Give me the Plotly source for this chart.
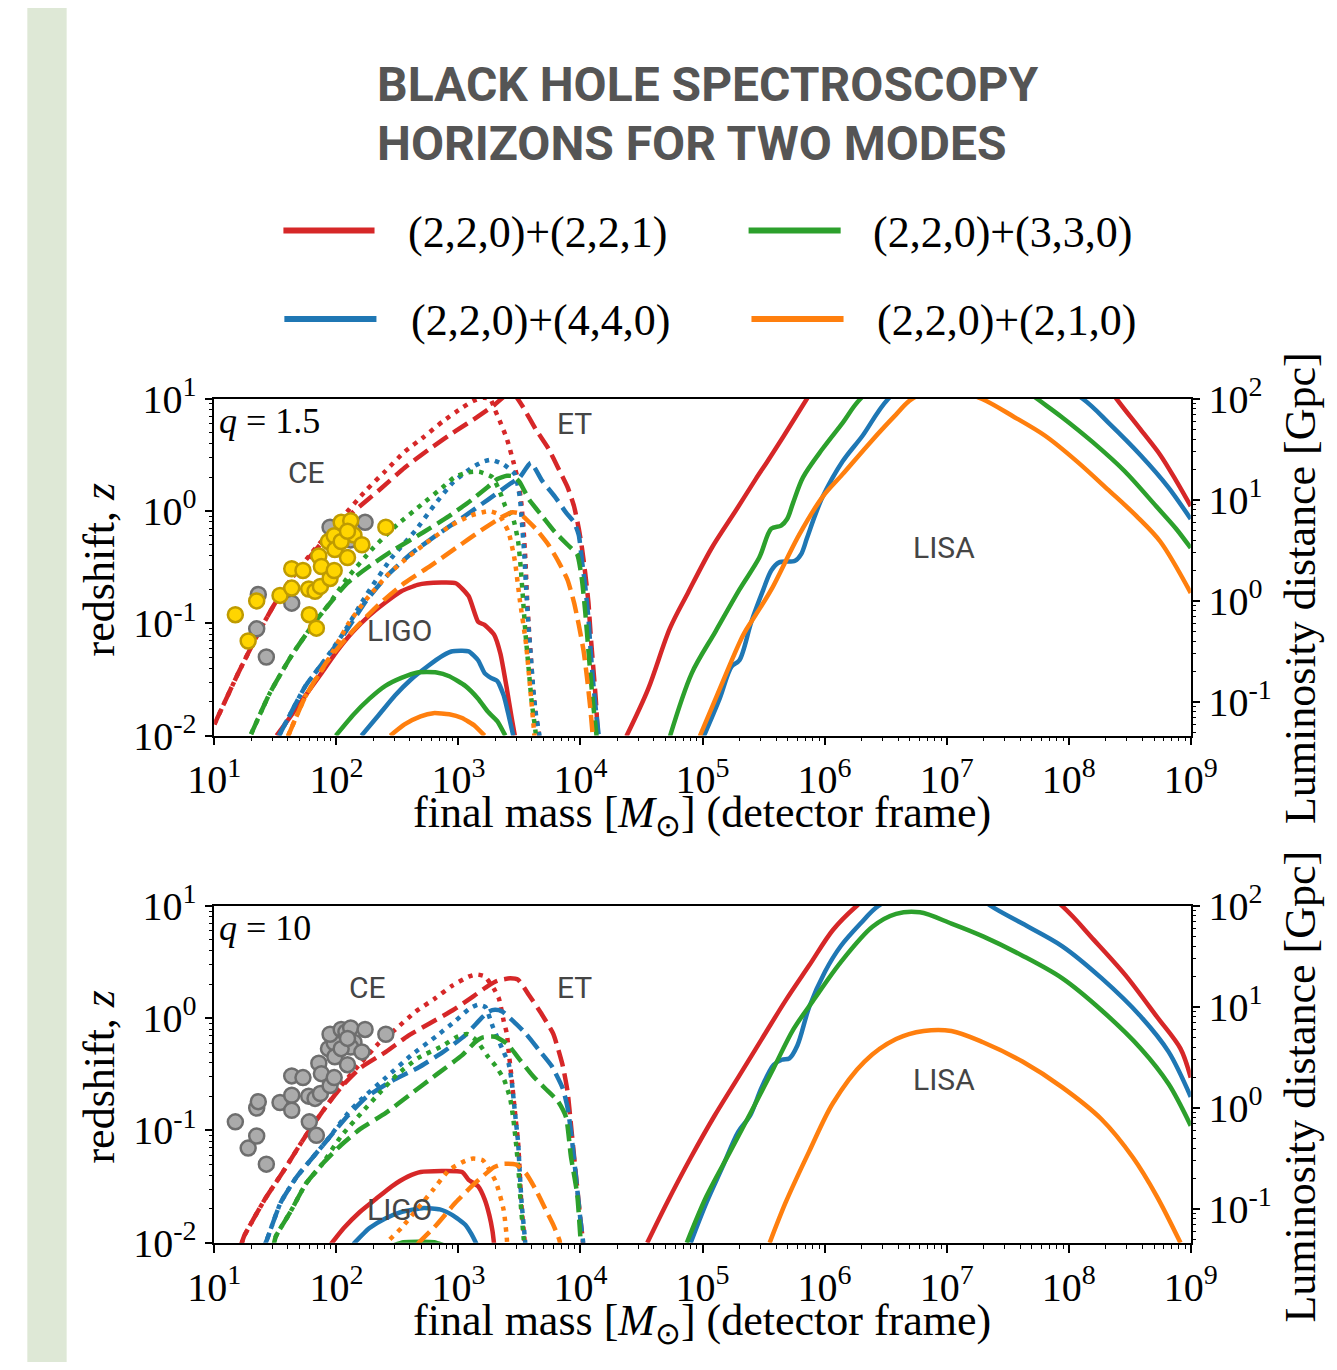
import numpy as np
import plotly.graph_objects as go

W, H = 1337, 1370          # target picture size
OX, OY = 8, 8              # page body margin
FW, FH = W - 2 * OX, H - 2 * OY
RED, BLUE, GREEN, ORANGE = "#d62728", "#1f77b4", "#2ca02c", "#ff7f0e"

# ---------------- data (log10 final mass, log10 redshift) ----------------
# q = 1.5  -- LIGO (solid)
T_LIGO_221_M = [1.51, 1.615, 1.747, 1.878, 2.008, 2.139, 2.271, 2.401, 2.532, 2.664, 2.742, 2.978, 3.083, 3.161, 3.214, 3.292, 3.344, 3.397, 3.436, 3.462]
T_LIGO_221_Z = [-2.0, -1.843, -1.643, -1.443, -1.243, -1.071, -0.929, -0.814, -0.714, -0.657, -0.643, -0.643, -0.757, -0.986, -1.014, -1.1, -1.271, -1.586, -1.843, -2.0]
T_LIGO_440_M = [2.205, 2.349, 2.48, 2.611, 2.742, 2.873, 2.951, 3.083, 3.161, 3.214, 3.266, 3.318, 3.371, 3.41, 3.449]
T_LIGO_440_Z = [-2.0, -1.814, -1.643, -1.5, -1.386, -1.286, -1.249, -1.249, -1.329, -1.443, -1.486, -1.514, -1.643, -1.814, -2.0]
T_LIGO_330_M = [1.995, 2.139, 2.271, 2.401, 2.532, 2.664, 2.821, 2.925, 3.056, 3.161, 3.24, 3.318, 3.384]
T_LIGO_330_Z = [-2.0, -1.814, -1.671, -1.557, -1.486, -1.437, -1.437, -1.471, -1.557, -1.671, -1.786, -1.871, -2.0]
T_LIGO_210_M = [2.441, 2.558, 2.69, 2.794, 2.925, 3.03, 3.135, 3.214]
T_LIGO_210_Z = [-2.0, -1.9, -1.829, -1.8, -1.809, -1.843, -1.914, -2.0]

# q = 1.5  -- ET (dashed)
T_ET_221_M = [1.0, 1.196, 1.354, 1.485, 1.642, 1.799, 1.982, 2.192, 2.349, 2.559, 2.768, 2.978, 3.161, 3.292, 3.40, 3.462, 3.528, 3.633, 3.737, 3.816, 3.894, 3.947, 3.986, 4.012, 4.039, 4.065, 4.083, 4.104, 4.125, 4.143, 4.15]
T_ET_221_Z = [-1.9, -1.443, -1.1, -0.843, -0.586, -0.386, -0.157, 0.043, 0.186, 0.386, 0.557, 0.714, 0.843, 0.943, 1.04, 1.03, 0.929, 0.729, 0.557, 0.386, 0.214, 0.043, -0.157, -0.329, -0.557, -0.814, -1.1, -1.386, -1.671, -1.986, -2.05]
T_ET_440_M = [1.53, 1.65, 1.747, 1.904, 2.061, 2.244, 2.42, 2.611, 2.821, 3.03, 3.24, 3.423, 3.502, 3.593, 3.685, 3.79, 3.882, 3.947, 3.986, 4.012, 4.039, 4.065, 4.083, 4.104, 4.13, 4.148, 4.155]
T_ET_440_Z = [-2.0, -1.75, -1.557, -1.329, -1.1, -0.8, -0.57, -0.38, -0.214, -0.06, 0.1, 0.243, 0.3, 0.43, 0.271, 0.129, -0.014, -0.1, -0.214, -0.443, -0.671, -0.957, -1.243, -1.529, -1.814, -1.986, -2.05]
T_ET_330_M = [1.301, 1.458, 1.642, 1.825, 1.93, 2.087, 2.297, 2.454, 2.716, 2.926, 3.109, 3.24, 3.319, 3.397, 3.45, 3.50, 3.58, 3.685, 3.79, 3.894, 3.973, 4.012, 4.039, 4.065, 4.099, 4.13, 4.135]
T_ET_330_Z = [-1.986, -1.614, -1.271, -0.986, -0.843, -0.643, -0.471, -0.357, -0.186, -0.043, 0.1, 0.214, 0.286, 0.314, 0.31, 0.26, 0.1, -0.043, -0.186, -0.3, -0.386, -0.614, -0.9, -1.243, -1.671, -1.986, -2.05]
T_ET_210_M = [1.603, 1.747, 1.93, 2.14, 2.349, 2.559, 2.768, 2.978, 3.188, 3.345, 3.44, 3.5, 3.554, 3.633, 3.737, 3.816, 3.894, 3.947, 3.986, 4.025, 4.052, 4.078, 4.099, 4.103]
T_ET_210_Z = [-2.006, -1.65, -1.33, -1.06, -0.83, -0.64, -0.49, -0.33, -0.17, -0.06, -0.01, -0.02, -0.071, -0.157, -0.3, -0.443, -0.614, -0.814, -1.014, -1.243, -1.471, -1.729, -1.986, -2.05]

# q = 1.5  -- CE (dotted)
T_CE_221_M = [1.0, 1.196, 1.354, 1.485, 1.642, 1.799, 2.035, 2.244, 2.402, 2.559, 2.716, 2.873, 3.03, 3.12, 3.2, 3.26, 3.30, 3.345, 3.397, 3.449, 3.489, 3.515, 3.533, 3.549, 3.56, 3.575, 3.593, 3.611, 3.633, 3.659, 3.665]
T_CE_221_Z = [-1.9, -1.443, -1.1, -0.843, -0.586, -0.37, -0.071, 0.186, 0.357, 0.529, 0.66, 0.8, 0.92, 0.98, 1.01, 1.0, 0.9, 0.786, 0.643, 0.443, 0.271, 0.071, -0.157, -0.443, -0.729, -1.014, -1.3, -1.586, -1.814, -1.986, -2.05]
T_CE_440_M = [1.53, 1.65, 1.747, 1.904, 2.061, 2.244, 2.45, 2.65, 2.8, 2.951, 3.108, 3.2, 3.266, 3.371, 3.462, 3.502, 3.52, 3.54, 3.555, 3.572, 3.593, 3.613, 3.635, 3.662, 3.668]
T_CE_440_Z = [-2.0, -1.75, -1.557, -1.329, -1.08, -0.75, -0.42, -0.17, 0.05, 0.25, 0.386, 0.44, 0.457, 0.414, 0.329, 0.129, -0.1, -0.4, -0.7, -1.0, -1.3, -1.586, -1.814, -1.986, -2.05]
T_CE_330_M = [1.301, 1.458, 1.642, 1.825, 1.93, 2.087, 2.3, 2.5, 2.7, 2.873, 2.965, 3.069, 3.17, 3.28, 3.34, 3.384, 3.449, 3.489, 3.51, 3.53, 3.55, 3.575, 3.6, 3.63, 3.64]
T_CE_330_Z = [-1.986, -1.614, -1.271, -0.986, -0.843, -0.6, -0.33, -0.12, 0.06, 0.214, 0.3, 0.343, 0.35, 0.3, 0.17, 0.043, -0.071, -0.271, -0.5, -0.8, -1.1, -1.4, -1.7, -1.95, -2.05]
T_CE_210_M = [1.603, 1.747, 1.93, 2.1, 2.25, 2.428, 2.6, 2.716, 2.938, 3.1, 3.252, 3.33, 3.41, 3.462, 3.502, 3.554, 3.593, 3.619, 3.625]
T_CE_210_Z = [-2.006, -1.65, -1.33, -1.0, -0.78, -0.56, -0.4, -0.3, -0.129, -0.04, 0.0, -0.03, -0.186, -0.443, -0.786, -1.186, -1.643, -1.957, -2.05]

# q = 1.5  -- LISA (solid)
T_LISA_221_M = [4.376, 4.554, 4.733, 4.88, 5.075, 5.27, 5.433, 5.53, 5.66, 5.855, 6.0, 7.0, 8.2, 8.392, 8.587, 8.75, 8.88, 9.0]
T_LISA_221_Z = [-2.006, -1.586, -1.043, -0.729, -0.329, 0.0, 0.28, 0.44, 0.66, 1.0, 1.25, 2.0, 1.3, 1.0, 0.729, 0.5, 0.271, 0.043]
T_LISA_440_M = [5.01, 5.14, 5.237, 5.302, 5.4, 5.498, 5.563, 5.628, 5.758, 5.807, 5.855, 5.92, 5.985, 6.148, 6.311, 6.522, 7.2, 8.115, 8.327, 8.587, 8.815, 9.0]
T_LISA_440_Z = [-2.006, -1.671, -1.386, -1.329, -0.986, -0.7, -0.529, -0.457, -0.443, -0.386, -0.243, -0.043, 0.129, 0.443, 0.671, 1.0, 1.6, 1.0, 0.786, 0.5, 0.214, -0.071]
T_LISA_330_M = [4.733, 4.912, 5.107, 5.302, 5.465, 5.563, 5.644, 5.693, 5.741, 5.823, 5.985, 6.148, 6.294, 7.0, 7.741, 7.937, 8.197, 8.457, 8.717, 8.88, 9.0]
T_LISA_330_Z = [-2.006, -1.443, -1.071, -0.7, -0.414, -0.157, -0.129, -0.071, 0.071, 0.3, 0.557, 0.786, 1.0, 1.6, 1.0, 0.843, 0.614, 0.357, 0.043, -0.157, -0.329]
T_LISA_210_M = [4.977, 5.14, 5.335, 5.433, 5.563, 5.79, 5.985, 6.148, 6.376, 6.571, 6.717, 7.0, 7.286, 7.546, 7.807, 8.067, 8.327, 8.554, 8.75, 9.0]
T_LISA_210_Z = [-2.006, -1.586, -1.1, -0.929, -0.7, -0.214, 0.129, 0.329, 0.614, 0.843, 1.0, 1.1, 1.0, 0.843, 0.671, 0.443, 0.186, -0.043, -0.271, -0.729]

# q = 10  -- LIGO (solid)
B_LIGO_221_M = [1.956, 2.061, 2.192, 2.323, 2.454, 2.585, 2.69, 3.03, 3.083, 3.161, 3.214, 3.253, 3.279, 3.292]
B_LIGO_221_Z = [-2.011, -1.869, -1.726, -1.611, -1.497, -1.411, -1.369, -1.369, -1.44, -1.497, -1.611, -1.754, -1.897, -2.011]
B_LIGO_440_M = [2.139, 2.271, 2.401, 2.532, 2.716, 2.847, 2.951, 3.056, 3.108, 3.148]
B_LIGO_440_Z = [-2.011, -1.869, -1.783, -1.726, -1.691, -1.703, -1.754, -1.84, -1.926, -2.011]
B_LIGO_330_M = [2.45, 2.55, 2.7, 2.8, 2.9]
B_LIGO_330_Z = [-2.03, -1.995, -1.99, -1.995, -2.03]

# q = 10  -- ET (dashed)
B_ET_221_M = [1.22, 1.243, 1.413, 1.569, 1.7, 1.804, 1.935, 2.039, 2.196, 2.405, 2.587, 2.77, 2.953, 3.11, 3.24, 3.319, 3.423, 3.488, 3.58, 3.685, 3.777, 3.855, 3.894, 3.921, 3.947, 3.973, 4.0, 4.018, 4.022]
B_ET_221_Z = [-2.02, -1.943, -1.614, -1.357, -1.129, -0.957, -0.757, -0.614, -0.443, -0.3, -0.157, -0.043, 0.071, 0.186, 0.286, 0.334, 0.355, 0.343, 0.203, 0.031, -0.14, -0.426, -0.654, -0.94, -1.226, -1.511, -1.797, -1.969, -2.05]
B_ET_440_M = [1.40, 1.426, 1.543, 1.674, 1.804, 1.935, 2.091, 2.248, 2.457, 2.666, 2.875, 3.057, 3.188, 3.25, 3.3, 3.358, 3.449, 3.554, 3.659, 3.764, 3.855, 3.894, 3.921, 3.947, 3.973, 4.0, 4.02, 4.025]
B_ET_440_Z = [-2.05, -1.986, -1.643, -1.414, -1.243, -1.071, -0.871, -0.7, -0.557, -0.443, -0.3, -0.15, 0.0, 0.06, 0.075, 0.06, -0.026, -0.14, -0.283, -0.426, -0.626, -0.797, -1.0, -1.25, -1.52, -1.8, -1.98, -2.05]
B_ET_330_M = [1.48, 1.504, 1.621, 1.752, 1.883, 2.039, 2.196, 2.405, 2.614, 2.822, 3.031, 3.136, 3.2, 3.3, 3.397, 3.502, 3.607, 3.711, 3.816, 3.882, 3.921, 3.973, 4.0, 4.005]
B_ET_330_Z = [-2.05, -1.943, -1.729, -1.471, -1.3, -1.129, -0.986, -0.843, -0.671, -0.5, -0.329, -0.214, -0.17, -0.165, -0.226, -0.369, -0.511, -0.626, -0.74, -0.883, -1.226, -1.569, -1.969, -2.05]
B_ET_210_M = [2.664, 2.821, 2.978, 3.135, 3.292, 3.371, 3.475, 3.554, 3.633, 3.711, 3.777, 3.829, 3.835]
B_ET_210_Z = [-2.011, -1.84, -1.64, -1.469, -1.326, -1.297, -1.305, -1.383, -1.526, -1.697, -1.84, -1.983, -2.05]

# q = 10  -- CE (dotted)
B_CE_221_M = [1.22, 1.243, 1.413, 1.569, 1.7, 1.804, 1.935, 2.039, 2.2, 2.35, 2.483, 2.65, 2.8, 2.95, 3.083, 3.15, 3.214, 3.292, 3.332, 3.371, 3.397, 3.41, 3.436, 3.462, 3.489, 3.502, 3.515, 3.541, 3.545]
B_CE_221_Z = [-2.02, -1.943, -1.614, -1.357, -1.129, -0.957, -0.757, -0.6, -0.4, -0.22, -0.1, 0.06, 0.17, 0.29, 0.37, 0.39, 0.374, 0.26, 0.174, -0.026, -0.14, -0.283, -0.54, -0.826, -1.111, -1.369, -1.654, -1.969, -2.05]
B_CE_440_M = [1.40, 1.426, 1.543, 1.674, 1.804, 1.935, 2.091, 2.196, 2.405, 2.614, 2.822, 2.979, 3.084, 3.16, 3.22, 3.279, 3.33, 3.37, 3.41, 3.436, 3.462, 3.489, 3.502, 3.518, 3.545, 3.55]
B_CE_440_Z = [-2.05, -1.986, -1.643, -1.414, -1.243, -1.071, -0.85, -0.729, -0.529, -0.329, -0.157, -0.02, 0.08, 0.12, 0.1, -0.069, -0.2, -0.3, -0.4, -0.56, -0.83, -1.11, -1.37, -1.65, -1.97, -2.05]
B_CE_330_M = [1.48, 1.504, 1.621, 1.752, 1.883, 2.039, 2.2, 2.35, 2.5, 2.666, 2.875, 2.979, 3.069, 3.15, 3.24, 3.305, 3.371, 3.423, 3.45, 3.475, 3.495, 3.51, 3.535, 3.54]
B_CE_330_Z = [-2.05, -1.943, -1.729, -1.471, -1.3, -1.05, -0.85, -0.67, -0.5, -0.357, -0.243, -0.171, -0.14, -0.2, -0.34, -0.426, -0.54, -0.711, -0.9, -1.15, -1.4, -1.65, -1.97, -2.05]
B_CE_210_M = [2.40, 2.428, 2.532, 2.664, 2.794, 2.925, 3.056, 3.12, 3.2, 3.305, 3.371, 3.397, 3.4]
B_CE_210_Z = [-2.05, -1.983, -1.869, -1.697, -1.526, -1.35, -1.27, -1.25, -1.265, -1.454, -1.711, -1.969, -2.05]

# q = 10  -- LISA (solid)
B_LISA_221_M = [4.547, 4.709, 4.903, 5.097, 5.291, 5.485, 5.68, 5.874, 6.068, 6.262, 7.1, 7.945, 8.204, 8.463, 8.722, 8.916, 9.0]
B_LISA_221_Z = [-2.0, -1.643, -1.243, -0.871, -0.529, -0.186, 0.157, 0.471, 0.786, 1.0, 1.7, 1.0, 0.7, 0.386, 0.014, -0.271, -0.529]
B_LISA_440_M = [4.903, 5.032, 5.162, 5.291, 5.388, 5.485, 5.583, 5.65, 5.712, 5.777, 5.874, 6.003, 6.133, 6.294, 6.44, 7.0, 7.362, 7.621, 7.945, 8.269, 8.592, 8.819, 9.0]
B_LISA_440_Z = [-2.0, -1.643, -1.329, -1.014, -0.871, -0.614, -0.414, -0.37, -0.357, -0.243, 0.1, 0.414, 0.643, 0.843, 1.0, 1.3, 1.0, 0.843, 0.643, 0.357, 0.014, -0.3, -0.7]
B_LISA_330_M = [4.871, 5.032, 5.227, 5.421, 5.583, 5.744, 5.906, 6.133, 6.392, 6.586, 6.78, 7.039, 7.298, 7.621, 7.945, 8.269, 8.592, 8.819, 9.0]
B_LISA_330_Z = [-2.0, -1.586, -1.186, -0.786, -0.443, -0.1, 0.157, 0.5, 0.814, 0.929, 0.943, 0.843, 0.729, 0.557, 0.357, 0.071, -0.271, -0.586, -0.957]
B_LISA_210_M = [5.55, 5.68, 5.874, 6.068, 6.327, 6.586, 6.812, 7.039, 7.298, 7.621, 7.945, 8.269, 8.528, 8.722, 8.916]
B_LISA_210_Z = [-2.0, -1.643, -1.186, -0.757, -0.386, -0.186, -0.114, -0.114, -0.214, -0.386, -0.614, -0.9, -1.243, -1.586, -2.0]

# observed events (log10 final mass, log10 z); gold in the q=1.5 panel where flagged
EV_M = [1.172, 1.277, 1.347, 1.426, 1.347, 1.360, 1.538, 1.634, 1.634, 1.634, 1.726, 1.773, 1.778, 1.825, 1.836, 1.856, 1.869, 1.877, 1.935, 1.948, 1.982, 1.982, 1.948, 1.987, 2.039, 2.078, 2.091, 2.117, 2.144, 2.117, 2.209, 2.235, 2.405, 2.039, 2.091]
EV_Z = [-0.923, -1.157, -1.049, -1.3, -0.8, -0.743, -0.751, -0.686, -0.82, -0.514, -0.529, -0.694, -0.923, -0.714, -1.043, -0.4, -0.671, -0.494, -0.271, -0.6, -0.529, -0.22, -0.143, -0.343, -0.1, -0.123, -0.414, -0.086, -0.214, -0.257, -0.3, -0.1, -0.143, -0.271, -0.18]
EV_GOLD = [1, 1, 0, 0, 1, 0, 1, 1, 0, 1, 1, 1, 1, 1, 1, 1, 1, 1, 1, 1, 1, 1, 0, 1, 1, 0, 1, 1, 1, 0, 1, 0, 1, 1, 1]

LEGEND_LABELS = ["(2,2,0)+(2,2,1)", "(2,2,0)+(3,3,0)", "(2,2,0)+(4,4,0)", "(2,2,0)+(2,1,0)"]

# ---------------- figure ----------------
fig = go.Figure()
DASH = "17px,7px"
DOT = "4.5px,6px"
LW = 4.5


def curve(m, z, color, dash, xa, ya, smooth):
    fig.add_trace(go.Scatter(x=10 ** np.array(m), y=10 ** np.array(z), mode="lines",
                             line=dict(color=color, width=LW, dash=dash, shape="spline", smoothing=smooth),
                             xaxis=xa, yaxis=ya, showlegend=False, hoverinfo="skip"))


top = [
    (RED, T_LIGO_221_M, T_LIGO_221_Z, T_LISA_221_M, T_LISA_221_Z, T_CE_221_M, T_CE_221_Z, T_ET_221_M, T_ET_221_Z),
    (BLUE, T_LIGO_440_M, T_LIGO_440_Z, T_LISA_440_M, T_LISA_440_Z, T_CE_440_M, T_CE_440_Z, T_ET_440_M, T_ET_440_Z),
    (GREEN, T_LIGO_330_M, T_LIGO_330_Z, T_LISA_330_M, T_LISA_330_Z, T_CE_330_M, T_CE_330_Z, T_ET_330_M, T_ET_330_Z),
    (ORANGE, T_LIGO_210_M, T_LIGO_210_Z, T_LISA_210_M, T_LISA_210_Z, T_CE_210_M, T_CE_210_Z, T_ET_210_M, T_ET_210_Z),
]
bot = [
    (RED, B_LIGO_221_M, B_LIGO_221_Z, B_LISA_221_M, B_LISA_221_Z, B_CE_221_M, B_CE_221_Z, B_ET_221_M, B_ET_221_Z),
    (BLUE, B_LIGO_440_M, B_LIGO_440_Z, B_LISA_440_M, B_LISA_440_Z, B_CE_440_M, B_CE_440_Z, B_ET_440_M, B_ET_440_Z),
    (GREEN, B_LIGO_330_M, B_LIGO_330_Z, B_LISA_330_M, B_LISA_330_Z, B_CE_330_M, B_CE_330_Z, B_ET_330_M, B_ET_330_Z),
    (ORANGE, None, None, B_LISA_210_M, B_LISA_210_Z, B_CE_210_M, B_CE_210_Z, B_ET_210_M, B_ET_210_Z),
]
for rows, xa, ya in [(top, "x", "y"), (bot, "x2", "y2")]:
    for c, lm, lz, sm, sz, cm, cz, em, ez in rows:
        if lm is not None:
            curve(lm, lz, c, "solid", xa, ya, 0.5)
        curve(sm, sz, c, "solid", xa, ya, 0.9)
        curve(cm, cz, c, DOT, xa, ya, 0.5)
        curve(em, ez, c, DASH, xa, ya, 0.5)

ev_m = 10 ** np.array(EV_M)
ev_z = 10 ** np.array(EV_Z)
gold = np.array(EV_GOLD) == 1
GREY_MK = dict(size=15, color="#ababab", line=dict(color="#6e6e6e", width=2.5))
GOLD_MK = dict(size=15, color="#ffd500", line=dict(color="#bf9b00", width=2.5))
fig.add_trace(go.Scatter(x=ev_m[~gold], y=ev_z[~gold], mode="markers", marker=GREY_MK,
                         xaxis="x", yaxis="y", showlegend=False, hoverinfo="skip"))
fig.add_trace(go.Scatter(x=ev_m[gold], y=ev_z[gold], mode="markers", marker=GOLD_MK,
                         xaxis="x", yaxis="y", showlegend=False, hoverinfo="skip"))
fig.add_trace(go.Scatter(x=ev_m, y=ev_z, mode="markers", marker=GREY_MK,
                         xaxis="x2", yaxis="y2", showlegend=False, hoverinfo="skip"))
# anchors for the luminosity-distance axes
fig.add_trace(go.Scatter(x=[], y=[], xaxis="x", yaxis="y3", showlegend=False))
fig.add_trace(go.Scatter(x=[], y=[], xaxis="x2", yaxis="y4", showlegend=False))


def px(x):
    return (x - OX) / FW


def py(y):
    return 1 - (y - OY) / FH


# ---------------- axes ----------------
SERIF = "Liberation Serif"
tick_font = dict(family=SERIF, size=40, color="black")


def p10(e):
    return f"10<sup>{e}</sup>"


def minors(lo, hi):
    return [k * 10.0 ** d for d in range(lo, hi) for k in range(2, 10)]


def xaxis(anchor):
    return dict(type="log", range=[1, 9], domain=[px(195), px(1213)], anchor=anchor,
                tickvals=[10.0 ** e for e in range(1, 10)], ticktext=[p10(e) for e in range(1, 10)],
                ticks="outside", ticklen=8, tickwidth=1.5, tickcolor="black",
                showline=True, linecolor="black", linewidth=1.5, mirror=True,
                showgrid=False, zeroline=False, tickfont=tick_font,
                minor=dict(tickvals=minors(1, 9), ticks="outside", ticklen=4, tickwidth=1,
                           tickcolor="black", showgrid=False))


def yaxis(anchor, dom):
    return dict(type="log", range=[-2, 1], domain=dom, anchor=anchor,
                tickvals=[10.0 ** e for e in range(-2, 2)], ticktext=[p10(e) for e in range(-2, 2)],
                ticks="outside", ticklen=8, tickwidth=1.5, tickcolor="black",
                showline=True, linecolor="black", linewidth=1.5,
                showgrid=False, zeroline=False, tickfont=tick_font,
                minor=dict(tickvals=minors(-2, 1), ticks="outside", ticklen=4, tickwidth=1,
                           tickcolor="black", showgrid=False))


def raxis(anchor, over):
    mv = [v for v in minors(-2, 2) if 10 ** -1.333 <= v <= 100]
    return dict(type="log", range=[-1.333, 2], overlaying=over, side="right", anchor=anchor,
                tickvals=[10.0 ** e for e in range(-1, 3)], ticktext=[p10(e) for e in range(-1, 3)],
                ticks="outside", ticklen=8, tickwidth=1.5, tickcolor="black",
                showline=True, linecolor="black", linewidth=1.5,
                showgrid=False, zeroline=False, tickfont=tick_font,
                minor=dict(tickvals=mv, ticks="outside", ticklen=4, tickwidth=1,
                           tickcolor="black", showgrid=False))


top_dom = [py(735), py(385)]
bot_dom = [py(1262), py(912)]

fig.update_layout(
    width=FW, height=FH, autosize=False,
    margin=dict(l=0, r=0, t=0, b=0),
    paper_bgcolor="white", plot_bgcolor="white",
    xaxis=xaxis("y"), yaxis=yaxis("x", top_dom),
    xaxis2=xaxis("y2"), yaxis2=yaxis("x2", bot_dom),
    yaxis3=raxis("x", "y"), yaxis4=raxis("x2", "y2"),
    showlegend=False,
)

shapes = [dict(type="rect", xref="paper", yref="paper", x0=px(0), x1=px(41), y0=-0.05, y1=1.05,
               fillcolor="#dee8d6", line=dict(width=0), layer="below")]
annots = []

# title
TITLE_FONT = dict(family="Roboto", size=48, color="#555555", weight=700)
annots.append(dict(text="BLACK HOLE SPECTROSCOPY", x=px(363), y=py(58), xanchor="left", yanchor="middle",
                   showarrow=False, xref="paper", yref="paper", font=TITLE_FONT))
annots.append(dict(text="HORIZONS FOR TWO MODES", x=px(363), y=py(120), xanchor="left", yanchor="middle",
                   showarrow=False, xref="paper", yref="paper", font=TITLE_FONT))

# legend (2 x 2, column-major)
leg_pos = [(267, 362, 210, 395, RED), (752, 848, 210, 880, GREEN),
           (268, 364, 302, 398, BLUE), (755, 851, 302, 884, ORANGE)]
for (x0, x1, yy, tx, col), lab in zip(leg_pos, LEGEND_LABELS):
    shapes.append(dict(type="line", xref="paper", yref="paper", x0=px(x0), x1=px(x1), y0=py(yy), y1=py(yy),
                       line=dict(color=col, width=6)))
    annots.append(dict(text=lab, x=px(tx), y=py(yy + 2), xanchor="left", yanchor="middle", showarrow=False,
                       xref="paper", yref="paper", font=dict(family=SERIF, size=44, color="black")))

LBL_FONT = dict(family="Roboto", size=30, color="#454545")
for t, x, y in [("CE", 291, 462), ("ET", 570, 411), ("LIGO", 388, 626), ("LISA", 956, 540),
                ("CE", 355, 997), ("ET", 570, 997), ("LIGO", 388, 1227), ("LISA", 956, 1092)]:
    annots.append(dict(text=t, x=px(x), y=py(y), xanchor="center", yanchor="middle", showarrow=False,
                       xref="paper", yref="paper", font=LBL_FONT))

for t, y in [("<i>q</i> = 1.5", 408), ("<i>q</i> = 10", 935)]:
    annots.append(dict(text=t, x=px(198), y=py(y), xanchor="left", yanchor="middle", showarrow=False,
                       xref="paper", yref="paper", font=dict(family=SERIF, size=36, color="black")))

AX_FONT = dict(family=SERIF, size=44, color="black")
for yc in (562, 1089):
    annots.append(dict(text="redshift, <i>z</i>", x=px(75), y=py(yc), xanchor="center", yanchor="middle",
                       textangle=-90, showarrow=False, xref="paper", yref="paper", font=AX_FONT))
for yc in (818, 1346):
    annots.append(dict(text="final mass [<i>M</i><sub>⊙</sub>] (detector frame)", x=px(703), y=py(yc),
                       xanchor="center", yanchor="middle", showarrow=False, xref="paper", yref="paper",
                       font=AX_FONT))
for yc in (582, 1100):
    annots.append(dict(text="Luminosity distance [Gpc]", x=px(1300), y=py(yc), xanchor="left", yanchor="middle",
                       textangle=-90, showarrow=False, xref="paper", yref="paper", font=AX_FONT))

fig.update_layout(shapes=shapes, annotations=annots)
fig.write_html("out.html")
